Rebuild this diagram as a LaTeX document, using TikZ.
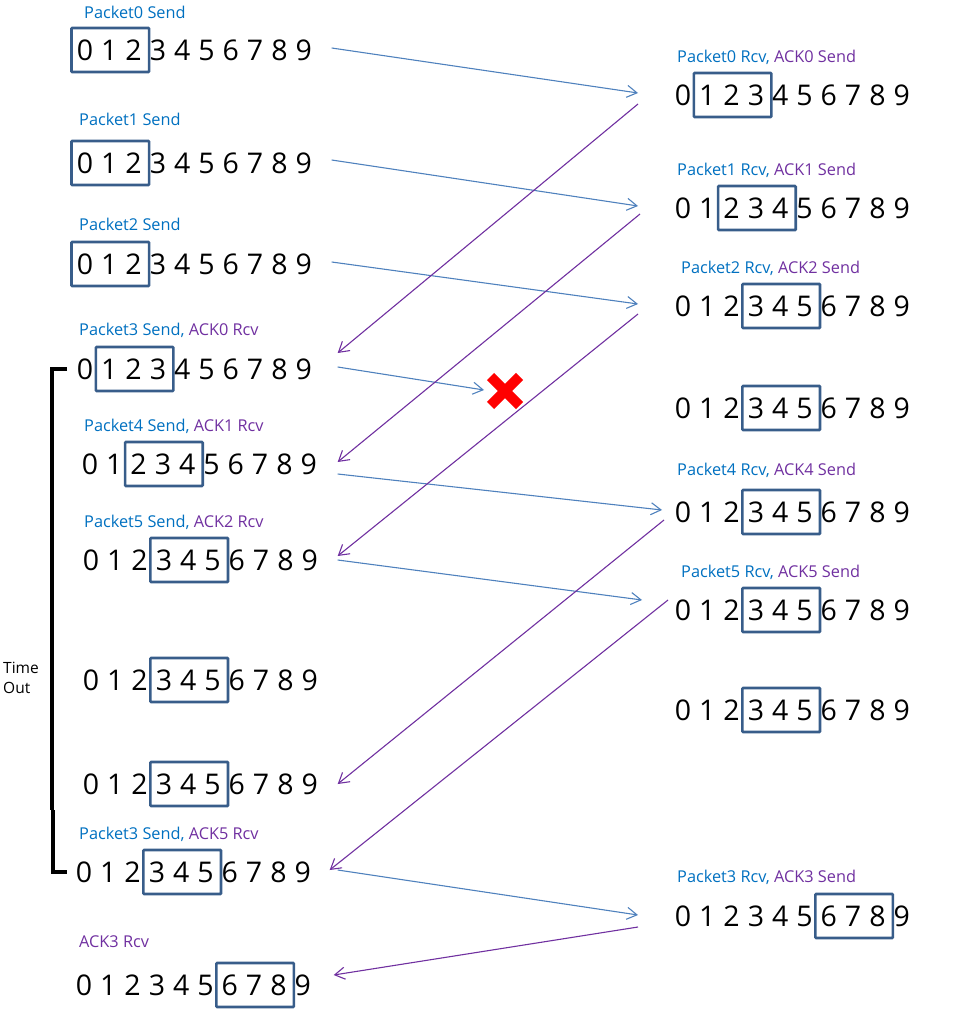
\documentclass[tikz,border=0pt]{standalone}
\usepackage{fontspec}
\setmainfont{Open Sans}
\usetikzlibrary{calc,arrows.meta,shapes.misc}
\definecolor{pktblue}{RGB}{0,112,192}
\definecolor{ackpurple}{RGB}{112,48,160}
\definecolor{sendline}{RGB}{79,129,189}
\definecolor{ackline}{RGB}{112,48,160}
\definecolor{winblue}{RGB}{56,93,138}
\tikzset{
  digit/.style={inner sep=0pt, text height=20.5pt, text depth=0pt, font=\fontsize{28.5}{30}\selectfont},
  win/.style={draw=winblue, line width=2.6pt, rounded corners=0.8pt},
  lbl/.style={anchor=west, inner sep=0pt, text height=11.5pt, text depth=0pt, font=\fontsize{16.3}{19}\selectfont},
  sendarrow/.style={draw=sendline, line width=1.1pt, -{Straight Barb[length=10pt,width=12pt]}},
  ackarrow/.style={draw=ackline, line width=1.1pt, -{Straight Barb[length=10pt,width=12pt]}},
  lostmark/.style={cross out, draw=red, line width=10pt, minimum size=19pt, inner sep=0pt}
}
\newcommand{\pkt}[1]{\textcolor{pktblue}{#1}}
\newcommand{\ack}[1]{\textcolor{ackpurple}{#1}}
% name, x of digit 0, y, first and last digit in window
\newcommand{\seqrow}[5]{
  \foreach \i in {0,...,9}
    \node[digit] (#1-\i) at (#2+\i*24.3, #3) {\i};
  \draw[win] ($(#1-#4)+(-13.5,-22)$) rectangle ($(#1-#5)+(15.5,22)$);
}

\begin{document}
\begin{tikzpicture}[x=1pt, y=-1pt]
  \useasboundingbox (0,0) rectangle (958,1022);

  % sender side
  \seqrow{s1}{85}{50}{0}{2}
  \seqrow{s2}{85}{163}{0}{2}
  \seqrow{s3}{85}{264}{0}{2}
  \seqrow{s4}{85}{369}{1}{3}
  \seqrow{s5}{90}{464}{2}{4}
  \seqrow{s6}{91}{560}{3}{5}
  \seqrow{s7}{91}{680}{3}{5}
  \seqrow{s8}{91}{784}{3}{5}
  \seqrow{s9}{84}{872}{3}{5}
  \seqrow{s10}{84}{985}{6}{8}

  % receiver side
  \seqrow{r1}{683}{95}{1}{3}
  \seqrow{r2}{683}{208}{2}{4}
  \seqrow{r3}{683}{306}{3}{5}
  \seqrow{r4}{683}{408}{3}{5}
  \seqrow{r5}{683}{512}{3}{5}
  \seqrow{r6}{683}{610}{3}{5}
  \seqrow{r7}{683}{710}{3}{5}
  \seqrow{r8}{683}{916}{6}{8}

  % labels
  \node[lbl] (s1-lbl) at (84,13) {\pkt{Packet0 Send}};
  \node[lbl] (s2-lbl) at (79,120) {\pkt{Packet1 Send}};
  \node[lbl] (s3-lbl) at (79,225) {\pkt{Packet2 Send}};
  \node[lbl] (s4-lbl) at (79,330) {\pkt{Packet3 Send,} \ack{ACK0 Rcv}};
  \node[lbl] (s5-lbl) at (84,426) {\pkt{Packet4 Send,} \ack{ACK1 Rcv}};
  \node[lbl] (s6-lbl) at (84,522) {\pkt{Packet5 Send,} \ack{ACK2 Rcv}};
  \node[lbl] (s9-lbl) at (79,834) {\pkt{Packet3 Send,} \ack{ACK5 Rcv}};
  \node[lbl] (s10-lbl) at (79,942) {\ack{ACK3 Rcv}};

  \node[lbl] (r1-lbl) at (677,57) {\pkt{Packet0 Rcv,} \ack{ACK0 Send}};
  \node[lbl] (r2-lbl) at (677,170) {\pkt{Packet1 Rcv,} \ack{ACK1 Send}};
  \node[lbl] (r3-lbl) at (681,268) {\pkt{Packet2 Rcv,} \ack{ACK2 Send}};
  \node[lbl] (r5-lbl) at (677,470) {\pkt{Packet4 Rcv,} \ack{ACK4 Send}};
  \node[lbl] (r6-lbl) at (681,572) {\pkt{Packet5 Rcv,} \ack{ACK5 Send}};
  \node[lbl] (r8-lbl) at (677,877) {\pkt{Packet3 Rcv,} \ack{ACK3 Send}};

  % lost packet
  \node[lostmark] (lost) at (505,391) {};

  % packets
  \draw[sendarrow] ($(s1-9)+(28,-2)$) -- ($(r1-0)+(-45,-2)$);
  \draw[sendarrow] ($(s2-9)+(28,-3)$) -- ($(r2-0)+(-45,-2)$);
  \draw[sendarrow] ($(s3-9)+(28,-2)$) -- ($(r3-0)+(-45,-2)$);
  \draw[sendarrow] ($(s4-9)+(34,-2)$) -- ($(lost)+(-21,-1)$);
  \draw[sendarrow] ($(s5-9)+(29,10)$) -- ($(r5-0)+(-21,-2)$);
  \draw[sendarrow] ($(s6-9)+(28,0)$) -- ($(r6-0)+(-41,-10)$);
  \draw[sendarrow] ($(s9-9)+(35,-2)$) -- ($(r8-0)+(-45,-1)$);

  % acks
  \draw[ackarrow] ($(r1-0)+(-45,9)$) -- ($(s4-9)+(34,-16)$);
  \draw[ackarrow] ($(r2-0)+(-43,6)$) -- ($(s5-9)+(29,-2)$);
  \draw[ackarrow] ($(r3-0)+(-45,8)$) -- ($(s6-9)+(28,-4)$);
  \draw[ackarrow] ($(r5-0)+(-19,8)$) -- ($(s8-9)+(28,0)$);
  \draw[ackarrow] ($(r6-0)+(-15,-10)$) -- ($(s9-9)+(27,-2)$);
  \draw[ackarrow] ($(r8-0)+(-45,11)$) -- ($(s10-9)+(31,-10)$);

  % time out bracket
  \draw[line width=3.3pt] ($(s4-0)+(-18,0)$) -- ($(s4-0)+(-33,0)$) -- ($(s4-0)+(-33,441)$);
  \draw[line width=3.3pt] ($(s9-0)+(-31,-62)$) -- ($(s9-0)+(-31,0)$) -- ($(s9-0)+(-17,0)$);
  \node[anchor=west, inner sep=0pt, align=left, font=\fontsize{15.5}{20}\selectfont] (timeout) at (3,678) {Time\\Out};
\end{tikzpicture}
\end{document}
